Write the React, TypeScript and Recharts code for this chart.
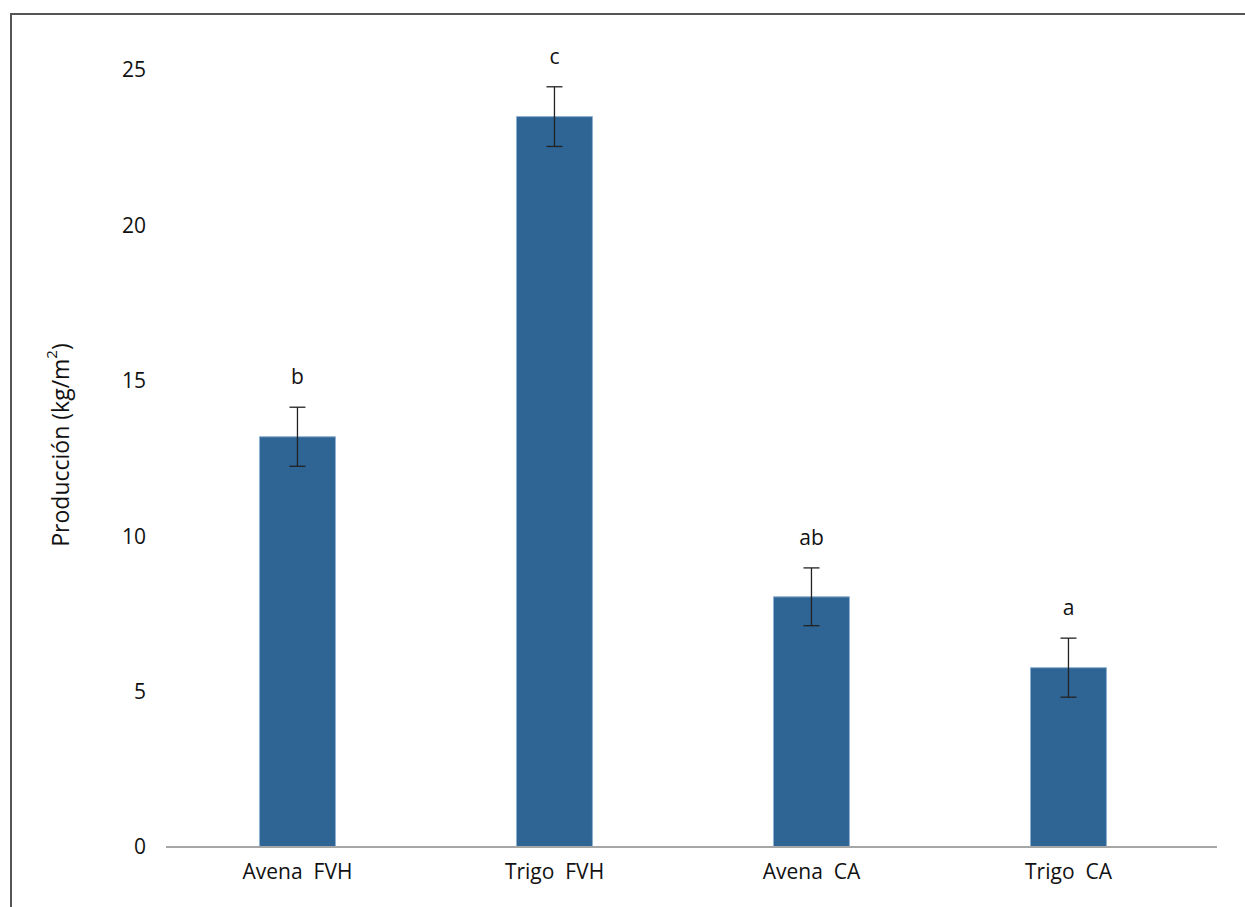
import React from 'react'
import {
  ComposedChart,
  Bar,
  Line,
  XAxis,
  YAxis,
  ErrorBar,
  LabelList,
  Label,
} from 'recharts'

const categories = ['Avena\u00a0\u00a0FVH', 'Trigo\u00a0\u00a0FVH', 'Avena\u00a0\u00a0CA', 'Trigo\u00a0\u00a0CA']
const produccion = [13.2, 23.5, 8.05, 5.77]
const errores = [0.95, 0.96, 0.93, 0.95]
const letras = ['b', 'c', 'ab', 'a']
const yTicks = [0, 5, 10, 15, 20, 25]

const data = categories.map((name, i) => ({
  name,
  value: produccion[i],
  err: errores[i],
  top: produccion[i] + errores[i],
  letra: letras[i],
}))

const FONT = '"Open Sans", "Noto Sans", sans-serif'

function YLabel({ viewBox }: { viewBox?: { x: number; y: number; width: number; height: number } }) {
  if (!viewBox) return null
  const cx = 60
  const cy = 445
  return (
    <text
      x={cx}
      y={cy}
      transform={`rotate(-90 ${cx} ${cy})`}
      textAnchor="middle"
      dominantBaseline="central"
      fontFamily={FONT}
      fontSize={23}
      fill="#111"
    >
      <tspan>Producción (kg/m</tspan>
      <tspan fontSize={15} dy={-9}>2</tspan>
      <tspan dy={9}>)</tspan>
    </text>
  )
}

export default function App() {
  return (
    <div style={{ position: 'absolute', left: 0, top: 0, width: 1245, height: 907, background: '#fff', overflow: 'hidden' }}>
      <div
        style={{
          position: 'absolute',
          left: 10,
          top: 13,
          width: 1300,
          height: 1000,
          borderTop: '2px solid #555',
          borderLeft: '2px solid #555',
        }}
      />
      <div style={{ position: 'absolute', left: 0, top: 0 }}>
        <ComposedChart
          width={1245}
          height={907}
          data={data}
          margin={{ top: 70, right: 28, bottom: 30, left: 106 }}
          barCategoryGap="35.2%"
        >
          <XAxis
            dataKey="name"
            height={30}
            padding={{ left: 3, right: 20 }}
            axisLine={{ stroke: '#a6a6a6', strokeWidth: 2 }}
            tickLine={false}
            tickSize={0}
            tickMargin={17}
            tick={{ fill: '#111', fontSize: 21, fontFamily: FONT }}
          />
          <YAxis
            width={60}
            domain={[0, 25]}
            ticks={yTicks}
            axisLine={false}
            tickLine={false}
            tickSize={0}
            tickMargin={20}
            tick={{ fill: '#111', fontSize: 21, fontFamily: FONT }}
          >
            <Label content={<YLabel />} />
          </YAxis>
          <Bar dataKey="value" fill="#2e6595" stroke="#8fb0d2" strokeWidth={1} isAnimationActive={false}>
            <ErrorBar dataKey="err" width={8} stroke="#222" strokeWidth={1.3} direction="y" />
          </Bar>
          <Line
            dataKey="top"
            stroke="none"
            dot={false}
            activeDot={false}
            isAnimationActive={false}
          >
            <LabelList
              dataKey="letra"
              position="top"
              offset={23}
              fill="#111"
              fontSize={21}
              fontFamily={FONT}
            />
          </Line>
        </ComposedChart>
      </div>
    </div>
  )
}
